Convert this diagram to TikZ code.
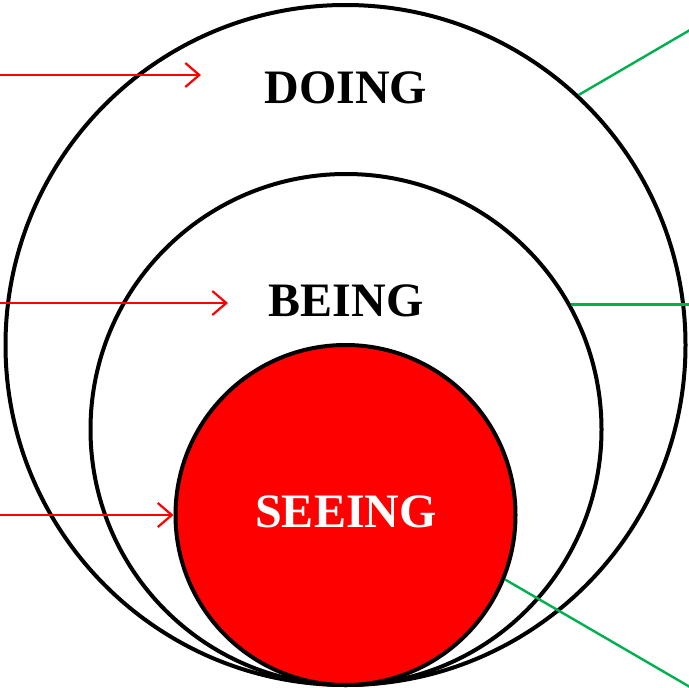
\documentclass[tikz,border=0pt]{standalone}
\usepackage{fontspec}
\setmainfont{Liberation Serif}
\usetikzlibrary{arrows.meta}
\definecolor{officegreen}{RGB}{0,176,80}
\tikzset{
  ring/.style={circle, draw=black, line width=4pt, inner sep=0pt},
  pointer/.style={draw=red, line width=2.2pt, -{Straight Barb[length=14pt, width=24pt, line width=2.2pt]}},
  leader/.style={draw=officegreen, line width=2.4pt},
  lbl/.style={font=\fontsize{48}{48}\selectfont\bfseries, anchor=base, inner sep=0pt}
}
\begin{document}
\begin{tikzpicture}[x=1pt, y=-1pt]
\useasboundingbox (0,0) rectangle (688,688);
\node[ring, minimum size=680pt] (outer) at (345.5,345) {};
\node[ring, minimum size=511pt] (middle) at (346,429.5) {};
\node[ring, fill=red, minimum size=340pt] (inner) at (345.5,515) {};
% labels
\node[lbl] (doing) at (346,103) {DOING};
\node[lbl] (being) at (346,316) {BEING};
\node[lbl, text=white] (seeing) at (346,527) {SEEING};
% red arrows
\coordinate (a1s) at (0,75);
\coordinate (a1e) at (201,75);
\coordinate (a2s) at (0,303);
\coordinate (a2e) at (228,303);
\coordinate (a3s) at (0,515);
\draw[pointer] (a1s) -- (a1e);
\draw[pointer] (a2s) -- (a2e);
\draw[pointer] (a3s) -- (inner.west);
% green leaders
\coordinate (g1) at (690,30);
\coordinate (g2) at (690,303);
\coordinate (g3) at (690,687);
\draw[leader] (outer.47.2) -- (g1);
\draw[leader] (middle.29.2) -- (middle.29.2 -| g2);
\draw[leader] (inner.-22.6) -- (g3);
\end{tikzpicture}
\end{document}
